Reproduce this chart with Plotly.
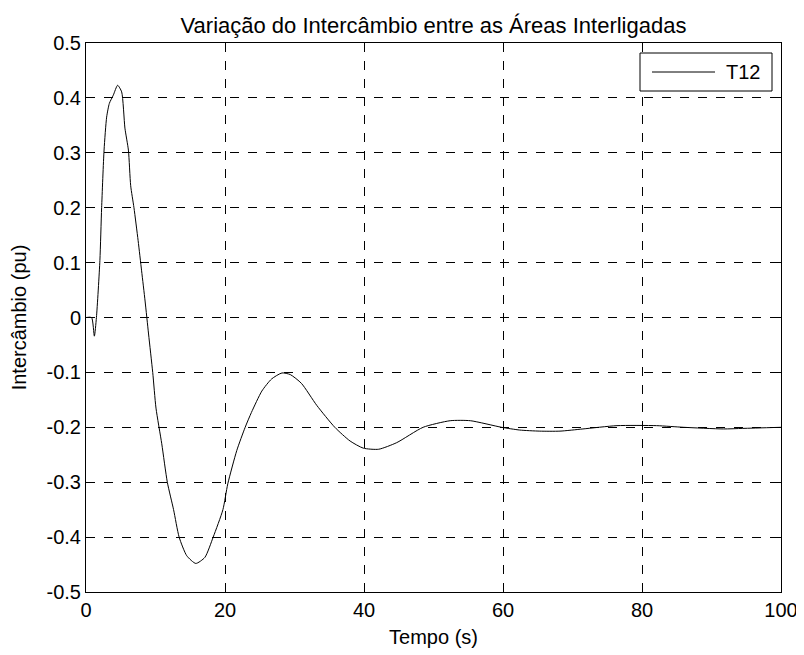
import plotly.graph_objects as go

tempo = [0, 0.8, 1.2, 1.5, 2.0, 2.25, 2.6, 2.97, 3.36, 3.93, 4.55, 5.13, 5.6, 6.1, 6.43, 6.9, 7.5, 8.0, 8.5, 9.0,
         9.6, 10.07, 10.9, 11.7, 12.6, 13.4, 14.5, 15.8, 17.1, 18.3, 19.7, 20.4, 21.7, 22.9, 23.8, 25.3, 26.7,
         28.2, 29.4, 31.0, 33.2, 35.8, 38.0, 39.9, 42.1, 44.7, 48.5, 52.4, 55.3, 59.8, 62.4, 65.3, 68.2, 71.5,
         76.4, 82.1, 86.0, 91.7, 94.5, 100]
t12 = [0, 0, -0.034, 0, 0.104, 0.2, 0.305, 0.365, 0.39, 0.405, 0.423, 0.411, 0.345, 0.305, 0.24, 0.2, 0.14,
       0.085, 0.03, -0.03, -0.1, -0.165, -0.23, -0.3, -0.35, -0.4, -0.434, -0.448, -0.437, -0.4, -0.35, -0.303,
       -0.242, -0.2, -0.173, -0.134, -0.112, -0.101, -0.104, -0.12, -0.16, -0.2, -0.225, -0.238, -0.24, -0.228,
       -0.2, -0.188, -0.188, -0.2, -0.205, -0.207, -0.207, -0.203, -0.197, -0.197, -0.2, -0.203, -0.202, -0.2]

x_ticks = [0, 20, 40, 60, 80, 100]
y_ticks = [-0.5, -0.4, -0.3, -0.2, -0.1, 0, 0.1, 0.2, 0.3, 0.4, 0.5]
y_labels = ["-0.5", "-0.4", "-0.3", "-0.2", "-0.1", "0", "0.1", "0.2", "0.3", "0.4", "0.5"]
series_name = "T12"

FONT = "Liberation Sans, Arial"
FS = 20
FS_TITLE = 22

# page is rendered with an 8px body margin; figure is sized/offset to compensate
PW, PH = 695, 549  # plot area size in px
def px_x(px):  # page x -> paper fraction
    return (px - 86) / PW
def px_y(py):  # page y -> paper fraction
    return 1 - (py - 43) / PH

fig = go.Figure()
fig.add_trace(go.Scatter(x=tempo, y=t12, mode="lines", name=series_name, showlegend=False,
                         line=dict(color="black", width=1, shape="spline", smoothing=0.6)))

axis_common = dict(showline=True, linecolor="black", linewidth=1, mirror="ticks",
                   ticks="inside", ticklen=5, tickcolor="black", automargin=False,
                   showgrid=True, gridcolor="black", griddash="dash", gridwidth=1,
                   zeroline=False, tickfont=dict(family=FONT, size=FS, color="black"))

# custom legend box (MATLAB style)
fig.add_shape(type="rect", xref="paper", yref="paper",
              x0=px_x(640), x1=px_x(772), y0=px_y(91), y1=px_y(53),
              line=dict(color="black", width=1), fillcolor="white", layer="above")
fig.add_shape(type="line", xref="paper", yref="paper",
              x0=px_x(652), x1=px_x(715), y0=px_y(72), y1=px_y(72),
              line=dict(color="black", width=1), layer="above")
fig.add_annotation(text=series_name, xref="paper", yref="paper", x=px_x(724), y=px_y(72),
                   xanchor="left", yanchor="middle", showarrow=False,
                   font=dict(family=FONT, size=FS, color="black"))

fig.update_layout(
    width=796, height=647,
    paper_bgcolor="white", plot_bgcolor="white",
    margin=dict(l=78, r=23, t=35, b=63),
    title=dict(text="Variação do Intercâmbio entre as Áreas Interligadas", x=(78 + 695 / 2) / 796,
               xanchor="center", y=1 - 17 / 647, yanchor="middle",
               font=dict(family=FONT, size=FS_TITLE, color="black")),
    xaxis=dict(range=[0, 100], tickvals=x_ticks,
               title=dict(text="Tempo (s)", standoff=9,
                          font=dict(family=FONT, size=FS, color="black")),
               **axis_common),
    yaxis=dict(range=[-0.5, 0.5], tickvals=y_ticks, ticktext=y_labels,
               title=dict(text="Intercâmbio (pu)", standoff=14,
                          font=dict(family=FONT, size=FS, color="black")),
               **axis_common),
    showlegend=False,
)

fig.write_html("out.html")
